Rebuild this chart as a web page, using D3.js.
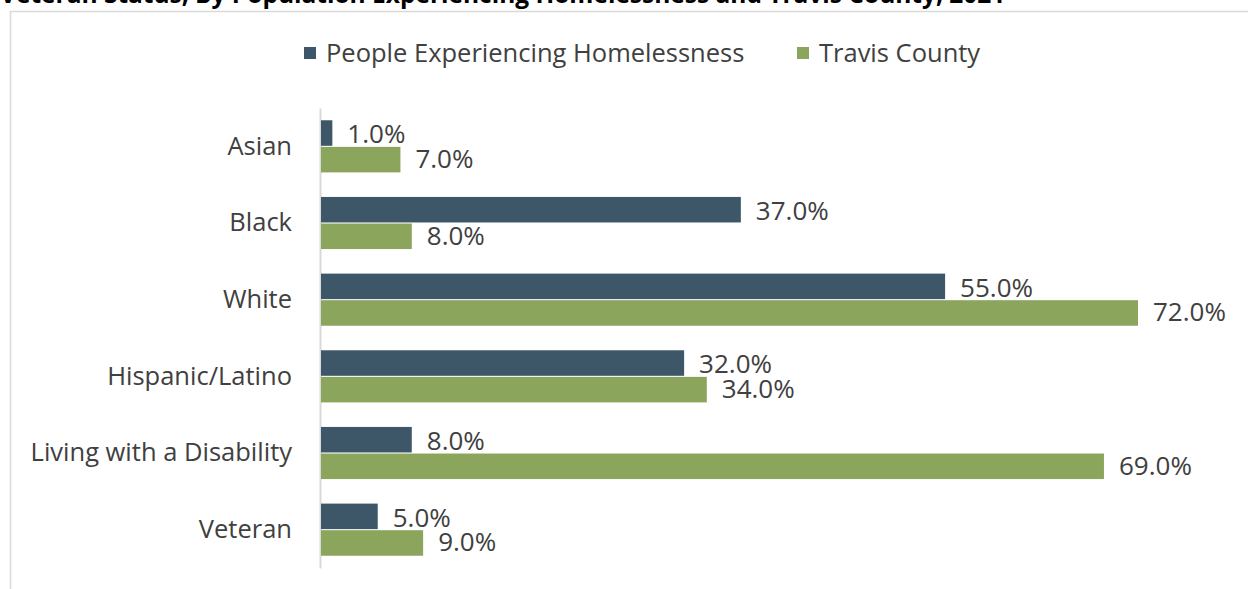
<!DOCTYPE html>
<html>
<head>
<meta charset="utf-8">
<script src="https://cdn.jsdelivr.net/npm/d3@7"></script>
<style>
  body { margin: 0; background: #fff; }
  svg { display: block; font-family: "Open Sans", sans-serif; }
</style>
</head>
<body>
<div id="chart"></div>
<script>
const categories = ["Asian", "Black", "White", "Hispanic/Latino", "Living with a Disability", "Veteran"];
const seriesNames = ["People Experiencing Homelessness", "Travis County"];
const homeless = [1, 37, 55, 32, 8, 5];
const travis = [7, 8, 72, 34, 69, 9];
const title = "Veteran Status, By Population Experiencing Homelessness and Travis County, 2021";

const width = 1248, height = 589;
const colors = ["#3d5769", "#8ba55d"];
const textColor = "#404040";

const svg = d3.select("#chart")
  .append("svg")
  .attr("width", width)
  .attr("height", height);

// chart frame
svg.append("rect")
  .attr("x", 10.5).attr("y", 11.5)
  .attr("width", width + 10).attr("height", height + 10)
  .attr("fill", "none")
  .attr("stroke", "#d9d9d9")
  .attr("stroke-width", 1.5);

// title (clipped at top of image)
svg.append("text")
  .attr("x", 0).attr("y", 3)
  .attr("font-size", 24.5)
  .attr("font-weight", "bold")
  .attr("fill", "#000")
  .text(title);

let x = d3.scaleLinear()
  .domain([0, 72])
  .range([321, 1138]);

let y = d3.scaleBand()
  .domain(categories)
  .range([108, 568])
  .paddingInner(0.32)
  .paddingOuter(0.16);

let y1 = d3.scaleBand()
  .domain([0, 1])
  .range([0, y.bandwidth()])
  .paddingInner(0.04);

// category axis
svg.append("g")
  .attr("transform", `translate(320,0)`)
  .call(d3.axisLeft(y).tickSize(0).tickPadding(28))
  .call(g => g.select(".domain").attr("stroke", "#d9d9d9").attr("stroke-width", 2))
  .call(g => g.selectAll(".tick text")
    .attr("font-family", "Open Sans, sans-serif")
    .attr("font-size", 25.5)
    .attr("fill", textColor));

const rows = categories.map((c, i) => ({ cat: c, vals: [homeless[i], travis[i]] }));

const groups = svg.append("g")
  .selectAll("g")
  .data(rows)
  .join("g")
  .attr("transform", d => `translate(0,${y(d.cat)})`);

groups.selectAll("rect")
  .data(d => d.vals)
  .join("rect")
  .attr("x", x(0))
  .attr("y", (d, i) => y1(i))
  .attr("width", d => x(d) - x(0))
  .attr("height", y1.bandwidth())
  .attr("fill", (d, i) => colors[i]);

groups.selectAll("text")
  .data(d => d.vals)
  .join("text")
  .attr("x", d => x(d) + 15)
  .attr("y", (d, i) => y1(i) + y1.bandwidth() / 2 + (i === 0 ? 1 : -1))
  .attr("dy", "0.36em")
  .attr("font-size", 26)
  .attr("fill", textColor)
  .text(d => d3.format(".1f")(d) + "%");

// legend
const legendX = [304, 797];
const legend = svg.append("g")
  .selectAll("g")
  .data(seriesNames)
  .join("g")
  .attr("transform", (d, i) => `translate(${legendX[i]},53)`);

legend.append("rect")
  .attr("x", 0).attr("y", -6)
  .attr("width", 12).attr("height", 12)
  .attr("fill", (d, i) => colors[i]);

legend.append("text")
  .attr("x", 22)
  .attr("dy", "0.36em")
  .attr("font-size", 25.5)
  .attr("fill", textColor)
  .text(d => d);
</script>
</body>
</html>
